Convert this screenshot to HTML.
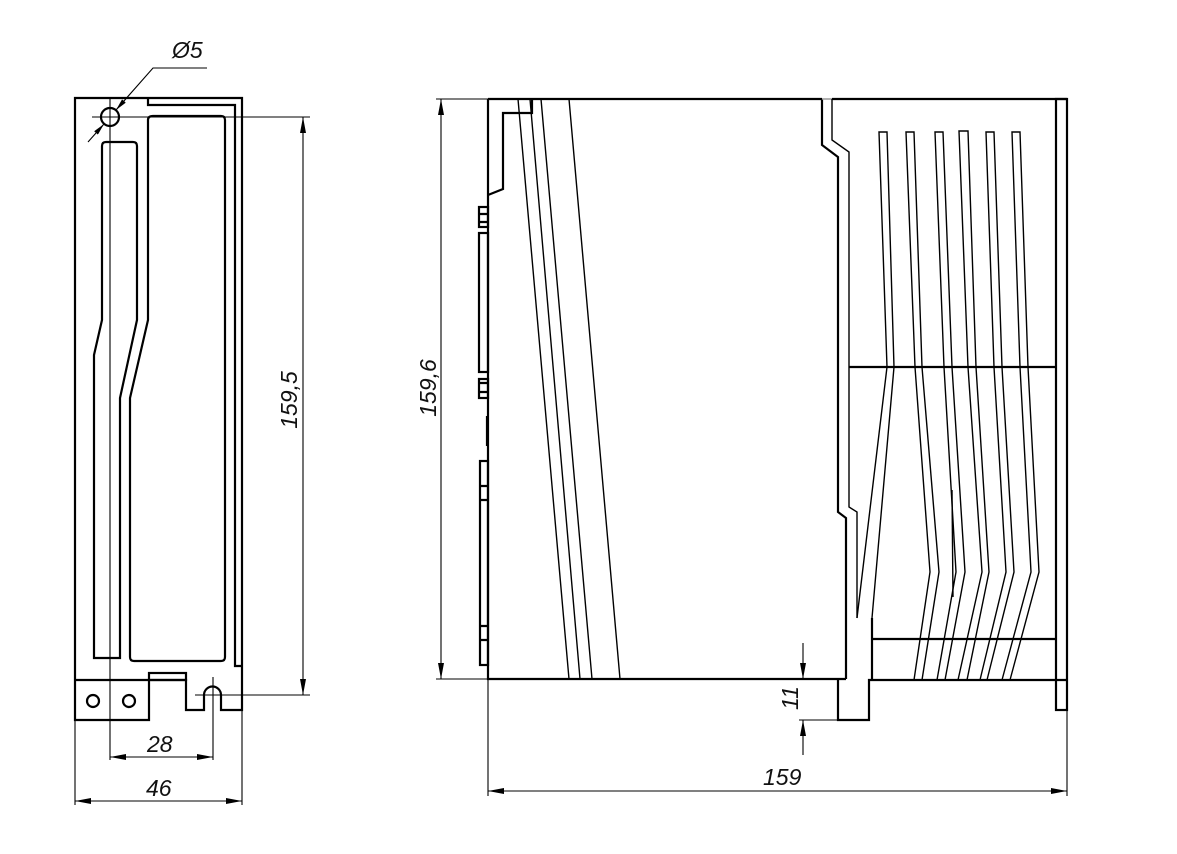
<!DOCTYPE html>
<html><head><meta charset="utf-8"><style>
html,body{margin:0;padding:0;background:#fff;}
svg{display:block;}
text{font-family:"Liberation Sans",sans-serif;font-style:italic;font-size:23px;fill:#111;}
</style></head><body>
<svg width="1177" height="854" viewBox="0 0 1177 854" xmlns="http://www.w3.org/2000/svg">
<defs>
<marker id="a" markerWidth="16" markerHeight="6" refX="16" refY="3" orient="auto" markerUnits="userSpaceOnUse"><path d="M0,0 L16,3 L0,6 Z" fill="#000"/></marker>
<marker id="b" markerWidth="16" markerHeight="6" refX="0" refY="3" orient="auto" markerUnits="userSpaceOnUse"><path d="M16,0 L0,3 L16,6 Z" fill="#000"/></marker>
<marker id="c" markerWidth="12" markerHeight="5" refX="12" refY="2.5" orient="auto" markerUnits="userSpaceOnUse"><path d="M0,0 L12,2.5 L0,5 Z" fill="#000"/></marker>
</defs>
<g fill="none" stroke="#000" stroke-width="2.2" stroke-linejoin="miter">
<!-- LEFT VIEW -->
<path d="M75,98 H242 V710 H221 V695 A8.5,8.5 0 0 0 204,695 V710 H186 V680 H149 V720 H75 Z"/>
<path d="M148,98 V105 H235 V666 H242"/>
<path d="M75,680 H149"/>
<rect x="149" y="673" width="37" height="7"/>
<path d="M153,116 H221 Q225,116 225,120 V657 Q225,661 221,661 H134 Q130,661 130,657 V398 L148,320 V120 Q148,116 153,116 Z"/>
<path d="M106,142 H133 Q137,142 137,146 V320 L120,398 V658 H94 V355 L102,320 V146 Q102,142 106,142 Z"/>
<circle cx="93" cy="701" r="6"/>
<circle cx="129" cy="701" r="6"/>
<circle cx="110" cy="117" r="9"/>
</g>
<g fill="none" stroke="#000" stroke-width="1.1">
<path d="M92,117 H310"/>
<path d="M110,98 V760"/>
<path d="M213,677 V760"/>
<path d="M195,695 H310"/>
<path d="M75,720 V805"/>
<path d="M242,710 V805"/>
<path d="M88,142 L104,124" marker-end="url(#c)"/>
<path d="M207,68 H153 L116,110" marker-end="url(#c)"/>
<path d="M303,117 V695" marker-start="url(#b)" marker-end="url(#a)"/>
<path d="M110,757 H213" marker-start="url(#b)" marker-end="url(#a)"/>
<path d="M75,801 H242" marker-start="url(#b)" marker-end="url(#a)"/>
</g>
<text x="172" y="58">Ø5</text>
<text x="147" y="752">28</text>
<text x="146" y="796">46</text>
<text transform="translate(297,400) rotate(-90)" text-anchor="middle">159,5</text>

<!-- RIGHT VIEW -->
<g fill="none" stroke="#000" stroke-width="2.2">
<path d="M488,99 H822 M832,99 H1067"/>
<path d="M488,99 V679 H846"/>
<path d="M488,195 L503,189 V113 H532 V99"/>
<rect x="479" y="207" width="9" height="20"/>
<path d="M479,214 H488 M479,222 H488"/>
<rect x="479" y="233" width="9" height="139"/>
<rect x="479" y="379" width="9" height="19"/>
<path d="M479,383 H488 M479,392 H488"/>
<path d="M487,416 V446"/>
<rect x="480" y="461" width="8" height="204"/>
<path d="M480,486 H488 M480,500 H488 M480,626 H488 M480,640 H488"/>
<path d="M822,99 V145 L838,157 V512 L846,518 V679"/>
<path d="M838,679 V720 H869 V680 H1067"/>
<rect x="1056" y="99" width="11" height="611"/>
<path d="M849,367 H1056"/>
<path d="M872,639 H1056"/>
<path d="M872,618 V680"/>
</g>
<path d="M822,99 H832" stroke="#999" stroke-width="1.5"/>
<g fill="none" stroke="#000" stroke-width="1.4">
<path d="M518,99 L569,679 M530,99 L580,679 M541,99 L592,679 M569,99 L620,679"/>
<path d="M832,99 V140 L849,152 V507 L857,512 V618"/>
<path d="M857,618 L887,367 L879,132 H887 L894,367 L872,618"/>
<path d="M914,680 L930,572 L915,367 L906,132 H914 L922,367 L939,572 L922,680"/>
<path d="M937,680 L956,572 L944,367 L935,132 H943 L952,367 L965,572 L945,680"/>
<path d="M952,490 L953,597"/>
<path d="M958,680 L982,572 L968,367 L959,131 H968 L976,367 L989,572 L967,680"/>
<path d="M980,680 L1006,572 L994,367 L986,132 H994 L1002,367 L1014,572 L987,680"/>
<path d="M1002,680 L1031,572 L1020,367 L1012,132 H1020 L1028,367 L1039,572 L1010,680"/>
</g>
<g fill="none" stroke="#000" stroke-width="1.1">
<path d="M436,99 H488"/>
<path d="M436,679 H488"/>
<path d="M441,99 V679" marker-start="url(#b)" marker-end="url(#a)"/>
<path d="M488,679 V796"/>
<path d="M1067,710 V796"/>
<path d="M488,791 H1067" marker-start="url(#b)" marker-end="url(#a)"/>
<path d="M799,720 H838"/>
<path d="M803,643 V679" marker-end="url(#a)"/>
<path d="M803,755 V720" marker-end="url(#a)"/>
</g>
<text transform="translate(436,388) rotate(-90)" text-anchor="middle">159,6</text>
<text transform="translate(798,698) rotate(-90)" text-anchor="middle">11</text>
<text x="763" y="785">159</text>
</svg>
</body></html>
